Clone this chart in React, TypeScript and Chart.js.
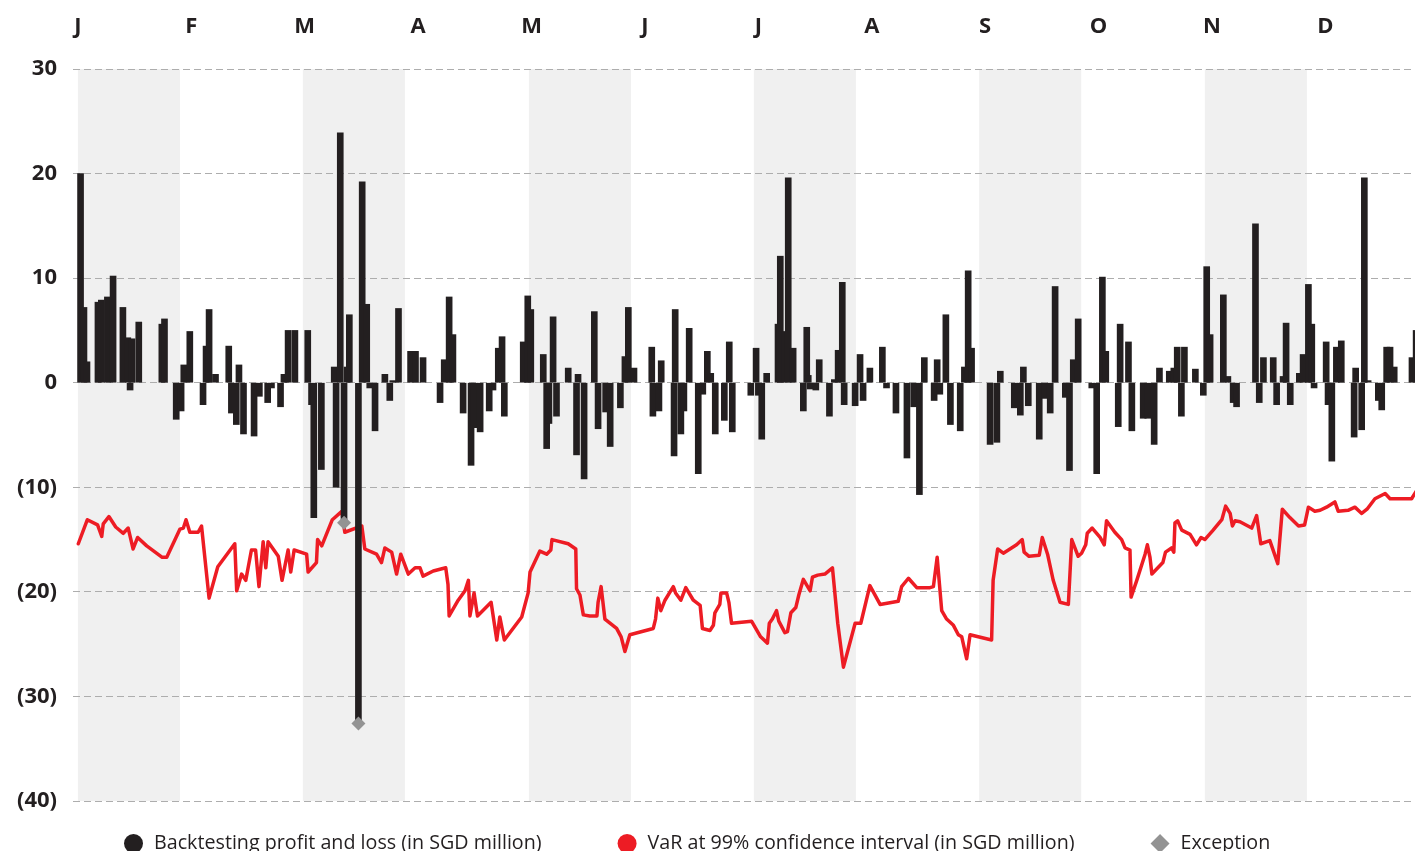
import React, { useEffect, useRef } from "react";
import { Chart, registerables } from "chart.js";

Chart.register(...registerables);

// ---- Axis content ----
const monthLabels = ["J", "F", "M", "A", "M", "J", "J", "A", "S", "O", "N", "D"];
const monthTicks = [0, 30, 60, 90, 120, 150, 180, 210, 240, 270, 300, 330];
const yTickValues = [30, 20, 10, 0, -10, -20, -30, -40];

// shaded month bands (in day units)
const bandStarts = [0, 59.5, 119.3, 178.8, 238.4, 298.1];
const bandEnds = [27, 86.5, 146.3, 205.8, 265.4, 325.1];

// ---- Series: backtesting profit and loss (day, SGD million) ----
const pnlDays = [
  0.7, 1.6, 2.4, 5.3, 6.2, 7.8, 9.3, 11.9, 13.2, 13.8, 14.3, 16.1, 22.2, 22.9, 26.0, 27.3, 28.0, 29.6, 33.1, 33.9, 34.7, 36.4, 39.9, 40.6, 41.9, 42.6, 43.8,
  46.6, 48.0, 50.2, 51.2, 53.6, 54.5, 55.6, 57.4, 60.8, 61.8, 62.4, 64.4, 67.8, 68.3, 69.4, 70.4, 71.2, 71.8, 74.2, 75.2, 76.4, 77.2, 78.6, 81.2, 82.5, 83.3, 84.8, 88.0, 89.3,
  91.3, 95.8, 96.9, 98.2, 99.2, 101.9, 104.0, 104.8, 106.4, 108.8, 109.8, 111.2, 112.2, 112.8, 117.8, 119.0, 119.8, 123.1, 124.0, 124.6, 125.7, 126.6, 129.7, 131.9, 132.3, 133.9,
  136.6, 137.6, 139.6, 140.8, 143.5, 144.7, 145.6, 147.1, 151.8, 152.1, 153.7, 154.3, 157.7, 158.0, 159.5, 160.3, 161.7, 164.1, 165.3, 166.5, 167.4, 168.6, 171.0, 172.3, 173.1, 178.0, 179.4, 180.0,
  180.9, 182.2, 185.2, 185.8, 186.9, 187.9, 189.2, 191.9, 192.8, 193.2, 193.7, 195.2, 196.1, 198.8, 200.1, 201.1, 202.2, 202.7, 205.6, 206.9, 207.7, 209.5, 212.8, 213.9, 216.4, 219.3, 221.1, 222.6, 223.9,
  226.5, 227.3, 228.0, 229.6, 230.8, 233.4, 234.5, 235.5, 236.4, 241.3, 243.1, 244.0, 247.7, 249.3, 250.1, 251.4, 254.3, 255.8, 257.2, 258.5, 261.2, 262.3, 263.3, 264.6, 268.2, 269.5,
  271.0, 271.9, 275.2, 275.7, 277.9, 278.8, 281.8, 283.0, 284.7, 286.1, 288.7, 289.9, 290.8, 291.9, 292.7, 295.6, 297.7, 298.6, 299.5, 303.0, 304.2, 305.6, 306.5, 311.5, 312.5, 313.6,
  316.2, 317.1, 318.8, 319.6, 320.7, 323.1, 324.1, 325.5, 326.4, 327.0, 330.2, 330.7, 331.7, 332.9, 334.2, 337.6, 338.0, 339.6, 340.3, 341.3, 344.0, 344.9, 346.2, 347.1, 348.2, 352.9, 354.0,
];
const pnlValues = [
  20.0, 7.2, 2.0, 7.7, 7.9, 8.2, 10.2, 7.2, 4.3, -0.7, 4.2, 5.8, 5.6, 6.1, -3.5, -2.7, 1.7, 4.9, -2.1, 3.5, 7.0, 0.8, 3.5, -2.9, -4.0, 1.7, -4.9,
  -5.1, -1.3, -1.9, -0.5, -2.3, 0.8, 5.0, 5.0, 5.0, -2.1, -12.9, -8.3, 1.5, -10.0, 23.9, -13.4, 1.5, 6.5, -32.6, 19.2, 7.5, -0.5, -4.6, 0.8, -1.7, 0.2, 7.1, 3.0, 3.0,
  2.4, -1.9, 2.2, 8.2, 4.6, -2.9, -7.9, -4.3, -4.7, -2.7, -0.7, 3.3, 4.4, -3.2, 3.9, 8.3, 7.0, 2.7, -6.3, -3.9, 6.3, -3.2, 1.4, -6.9, 0.8, -9.2,
  6.8, -4.4, -2.8, -6.1, -2.4, 2.5, 7.2, 1.4, 3.4, -3.2, -2.7, 2.1, -7.0, 7.0, -4.9, -2.7, 5.2, -8.7, -1.1, 3.0, 0.9, -4.9, -3.6, 3.9, -4.7, -1.2, 3.3, -1.2,
  -5.4, 0.9, 5.6, 12.1, 4.9, 19.6, 3.3, -2.7, 5.3, 0.7, -0.6, -0.7, 2.2, -3.2, 0.3, 3.1, 9.6, -2.1, -2.2, 2.7, -1.7, 1.4, 3.4, -0.5, -2.9, -7.2, -2.3, -10.7, 2.4,
  -1.7, 2.2, -1.1, 6.5, -4.0, -4.6, 1.5, 10.7, 3.3, -5.9, -5.7, 1.1, -2.4, -3.1, 1.5, -2.2, -5.4, -1.5, -2.9, 9.2, -1.4, -8.4, 2.2, 6.1, -0.5, -8.7,
  10.1, 3.0, -4.2, 5.6, 3.9, -4.6, -3.4, -3.4, -5.9, 1.4, 1.1, 1.4, 3.4, -3.2, 3.4, 1.3, -1.2, 11.1, 4.6, 8.4, 0.6, -1.9, -2.3, 15.2, -1.9, 2.4,
  2.4, -2.1, 0.6, 5.7, -2.1, 0.9, 2.7, 9.4, 5.6, -0.5, 3.9, -2.1, -7.5, 3.4, 4.0, -5.2, 1.4, -4.5, 19.6, 0.2, -1.7, -2.6, 3.4, 3.4, 1.5, 2.4, 5.0,
];

// ---- Series: VaR at 99% confidence interval (day, SGD million) ----
const varDays = [
  0.1, 2.5, 5.2, 6.3, 6.7, 8.2, 10.0, 12.0, 13.3, 14.6, 15.8, 18.2, 22.3, 23.5, 27.0, 27.9, 28.6, 29.6, 31.8, 32.7, 34.7, 37.0, 41.5, 42.0, 43.3, 44.4,
  45.9, 47.0, 47.9, 49.0, 49.7, 50.3, 53.0, 54.0, 55.6, 56.3, 57.2, 60.5, 60.9, 63.1, 63.4, 64.5, 67.3, 69.8, 70.6, 75.1, 75.9, 79.0, 80.3, 81.2, 83.0, 84.3, 85.4, 87.4, 89.2, 90.5,
  91.3, 94.0, 97.3, 97.9, 98.2, 100.6, 102.4, 103.3, 103.7, 104.8, 105.7, 109.3, 110.8, 111.6, 112.8, 117.4, 119.1, 119.6, 122.2, 124.0, 125.1, 125.4, 129.7, 131.7, 131.9, 132.8, 133.7, 135.4,
  137.3, 137.6, 138.4, 139.4, 142.5, 143.7, 144.7, 146.0, 152.2, 152.8, 153.4, 154.2, 155.3, 157.5, 158.1, 159.5, 160.8, 162.8, 164.6, 165.2, 167.2, 168.1, 168.5, 169.8, 170.1, 171.6, 172.2, 172.9, 178.2, 180.6,
  182.4, 182.9, 183.7, 184.8, 185.4, 187.0, 187.7, 188.6, 189.9, 190.7, 191.9, 193.7, 194.3, 195.7, 197.6, 199.6, 201.0, 202.5, 205.6, 207.1, 209.5, 212.2, 217.0, 217.9, 219.7, 221.9, 225.4,
  226.3, 227.3, 228.5, 229.8, 231.6, 232.9, 233.8, 235.1, 236.0, 241.7, 242.1, 243.3, 244.8, 248.3, 249.8, 250.3, 251.6, 254.3, 255.1, 256.5, 258.0, 259.8, 262.0, 262.9, 264.6, 265.5, 266.6, 267.0, 268.3, 270.4,
  271.5, 272.1, 274.3, 276.1, 277.0, 278.3, 278.6, 280.1, 282.3, 282.9, 283.6, 284.1, 287.0, 287.7, 289.3, 289.9, 290.2, 290.9, 292.0, 294.2, 295.9, 297.1, 298.1, 300.3, 302.6, 303.6, 304.8, 305.4, 306.1, 307.4, 310.5, 311.8, 312.9, 315.3,
  317.4, 318.6, 320.6, 322.9, 324.5, 325.5, 327.2, 328.6, 330.3, 332.5, 333.4, 336.0, 337.8, 339.6, 341.0, 343.1, 345.8, 347.1, 352.8, 354.0,
];
const varValues = [
  -15.4, -13.1, -13.6, -14.7, -13.5, -12.8, -13.8, -14.4, -13.9, -15.9, -14.8, -15.6, -16.7, -16.7, -14.0, -13.9, -13.1, -14.3, -14.3, -13.7, -20.6, -17.6, -15.4, -19.9, -18.3, -18.9,
  -16.0, -16.0, -19.5, -15.2, -17.7, -15.2, -16.6, -18.9, -16.0, -18.1, -16.0, -16.4, -18.1, -17.2, -15.0, -15.6, -13.1, -12.3, -14.3, -13.7, -15.9, -16.4, -17.2, -15.8, -16.2, -18.3, -16.4, -18.3, -17.7, -17.7,
  -18.5, -18.0, -17.7, -19.3, -22.3, -20.8, -19.9, -18.9, -22.3, -20.1, -22.3, -21.0, -24.6, -22.4, -24.6, -22.4, -20.1, -18.1, -16.1, -16.4, -16.0, -15.0, -15.4, -15.9, -19.7, -20.3, -22.2, -22.3,
  -22.3, -21.0, -19.5, -22.6, -23.5, -24.3, -25.7, -24.1, -23.5, -22.6, -20.6, -21.8, -20.8, -19.5, -20.1, -20.8, -19.6, -20.8, -21.3, -23.5, -23.7, -23.2, -22.0, -21.2, -20.1, -20.1, -21.0, -23.0, -22.8, -24.3,
  -24.9, -23.0, -22.6, -21.8, -22.8, -23.9, -23.8, -22.0, -21.5, -20.3, -18.8, -19.9, -18.6, -18.4, -18.3, -17.7, -23.0, -27.2, -23.0, -23.0, -19.4, -21.2, -20.9, -19.5, -18.7, -19.6, -19.6,
  -19.5, -16.7, -21.8, -22.6, -23.2, -24.1, -24.3, -26.4, -24.1, -24.6, -18.9, -15.9, -16.3, -15.5, -15.0, -16.2, -16.6, -16.5, -14.8, -16.4, -18.9, -21.0, -21.2, -15.0, -16.6, -16.3, -15.5, -14.4, -13.9, -14.8,
  -15.5, -13.2, -14.3, -15.0, -15.8, -16.0, -20.5, -18.9, -16.4, -15.5, -16.7, -18.3, -17.2, -16.2, -15.8, -16.2, -13.4, -13.2, -14.1, -14.5, -15.5, -14.8, -15.0, -14.1, -13.1, -11.8, -12.5, -13.7, -13.2, -13.3, -13.9, -12.7, -15.4, -15.1,
  -17.3, -12.1, -12.9, -13.7, -13.6, -11.9, -12.3, -12.2, -11.9, -11.4, -12.3, -12.2, -11.9, -12.5, -12.1, -11.1, -10.6, -11.1, -11.1, -10.4,
];

// ---- Series: exceptions ----
const exceptionDays = [70.4, 74.2];
const exceptionValues = [-13.4, -32.6];

const TEXT = "#231f20";
const FONT = '"Open Sans", "DejaVu Sans", sans-serif';

const bandPlugin = {
  id: "monthBands",
  beforeDraw(chart: any) {
    const { ctx, chartArea } = chart;
    const xs = chart.scales.x;
    ctx.save();
    ctx.fillStyle = "#f0f0f0";
    bandStarts.forEach((s, i) => {
      const x0 = xs.getPixelForValue(s);
      const x1 = xs.getPixelForValue(bandEnds[i]);
      ctx.fillRect(x0, chartArea.top, x1 - x0, chartArea.bottom - chartArea.top);
    });
    ctx.restore();
  },
};

const legendPlugin = {
  id: "bottomLegend",
  afterDraw(chart: any) {
    const { ctx } = chart;
    ctx.save();
    ctx.font = `19.7px ${FONT}`;
    ctx.textBaseline = "middle";
    ctx.textAlign = "left";
    const cy = 843.5;
    let x = 124;
    chart.data.datasets.forEach((ds: any) => {
      const r = 9.5;
      ctx.fillStyle = ds.legendColor;
      ctx.beginPath();
      if (ds.legendShape === "diamond") {
        ctx.moveTo(x + r, cy - r);
        ctx.lineTo(x + 2 * r, cy);
        ctx.lineTo(x + r, cy + r);
        ctx.lineTo(x, cy);
        ctx.closePath();
      } else {
        ctx.arc(x + r, cy, r, 0, Math.PI * 2);
      }
      ctx.fill();
      ctx.fillStyle = TEXT;
      const tx = x + 2 * r + 11;
      ctx.fillText(ds.label, tx, cy);
      x = tx + ctx.measureText(ds.label).width + 76;
    });
    ctx.restore();
  },
};

export default function App() {
  const ref = useRef<HTMLCanvasElement>(null);

  useEffect(() => {
    document.body.style.margin = "0";
    const pnl = pnlDays.map((d, i) => ({ x: d, y: pnlValues[i] }));
    const vr = varDays.map((d, i) => ({ x: d, y: varValues[i] }));
    const ex = exceptionDays.map((d, i) => ({ x: d, y: exceptionValues[i] }));

    const chart = new Chart(ref.current as HTMLCanvasElement, {
      type: "bar",
      data: {
        datasets: [
          {
            type: "bar",
            label: "Backtesting profit and loss (in SGD million)",
            data: pnl,
            backgroundColor: "#231f20",
            borderWidth: 0,
            barThickness: 6,
            order: 2,
            legendColor: "#231f20",
            legendShape: "circle",
          } as any,
          {
            type: "line",
            label: "VaR at 99% confidence interval (in SGD million)",
            data: vr,
            borderColor: "#ed1c24",
            borderWidth: 3.5,
            borderJoinStyle: "round",
            borderCapStyle: "round",
            pointRadius: 0,
            pointHoverRadius: 0,
            tension: 0,
            fill: false,
            order: 3,
            legendColor: "#ed1c24",
            legendShape: "circle",
          } as any,
          {
            type: "scatter",
            label: "Exception",
            data: ex,
            pointStyle: "rectRot",
            pointRadius: 7,
            pointHoverRadius: 7,
            backgroundColor: "#939393",
            borderColor: "#939393",
            borderWidth: 0,
            order: 1,
            legendColor: "#939393",
            legendShape: "diamond",
          } as any,
        ],
      },
      options: {
        responsive: false,
        devicePixelRatio: 1,
        animation: false,
        layout: { autoPadding: false, padding: { left: 0, right: 0, top: 0, bottom: 50 } },
        plugins: {
          legend: { display: false },
          tooltip: { enabled: false },
        },
        events: [],
        scales: {
          x: {
            type: "linear",
            position: "top",
            offset: false,
            min: -1.3,
            max: 353.7,
            grid: { display: false, drawTicks: false, offset: false },
            border: { display: false },
            afterBuildTicks: (s: any) => {
              s.ticks = monthTicks.map((v) => ({ value: v }));
            },
            afterFit: (s: any) => {
              s.height = 69;
            },
            ticks: {
              autoSkip: false,
              maxRotation: 0,
              padding: 29,
              color: TEXT,
              font: { family: FONT, size: 22, weight: "bold" },
              callback: (v: any) => monthLabels[monthTicks.indexOf(Number(v))],
            },
          },
          y: {
            type: "linear",
            min: -40,
            max: 30,
            afterBuildTicks: (s: any) => {
              s.ticks = yTickValues.map((v) => ({ value: v }));
            },
            afterFit: (s: any) => {
              s.width = 73;
            },
            grid: { color: "#adadad", lineWidth: 1, drawTicks: false },
            border: { display: false, dash: [7, 4] },
            ticks: {
              padding: 16,
              color: TEXT,
              font: { family: FONT, size: 22, weight: "bold" },
              callback: (v: any) => (Number(v) < 0 ? `(${-Number(v)})` : `${v}`),
            },
          },
        },
      } as any,
      plugins: [bandPlugin, legendPlugin],
    });
    return () => chart.destroy();
  }, []);

  return <canvas ref={ref} width={1415} height={851} style={{ display: "block" }} />;
}
